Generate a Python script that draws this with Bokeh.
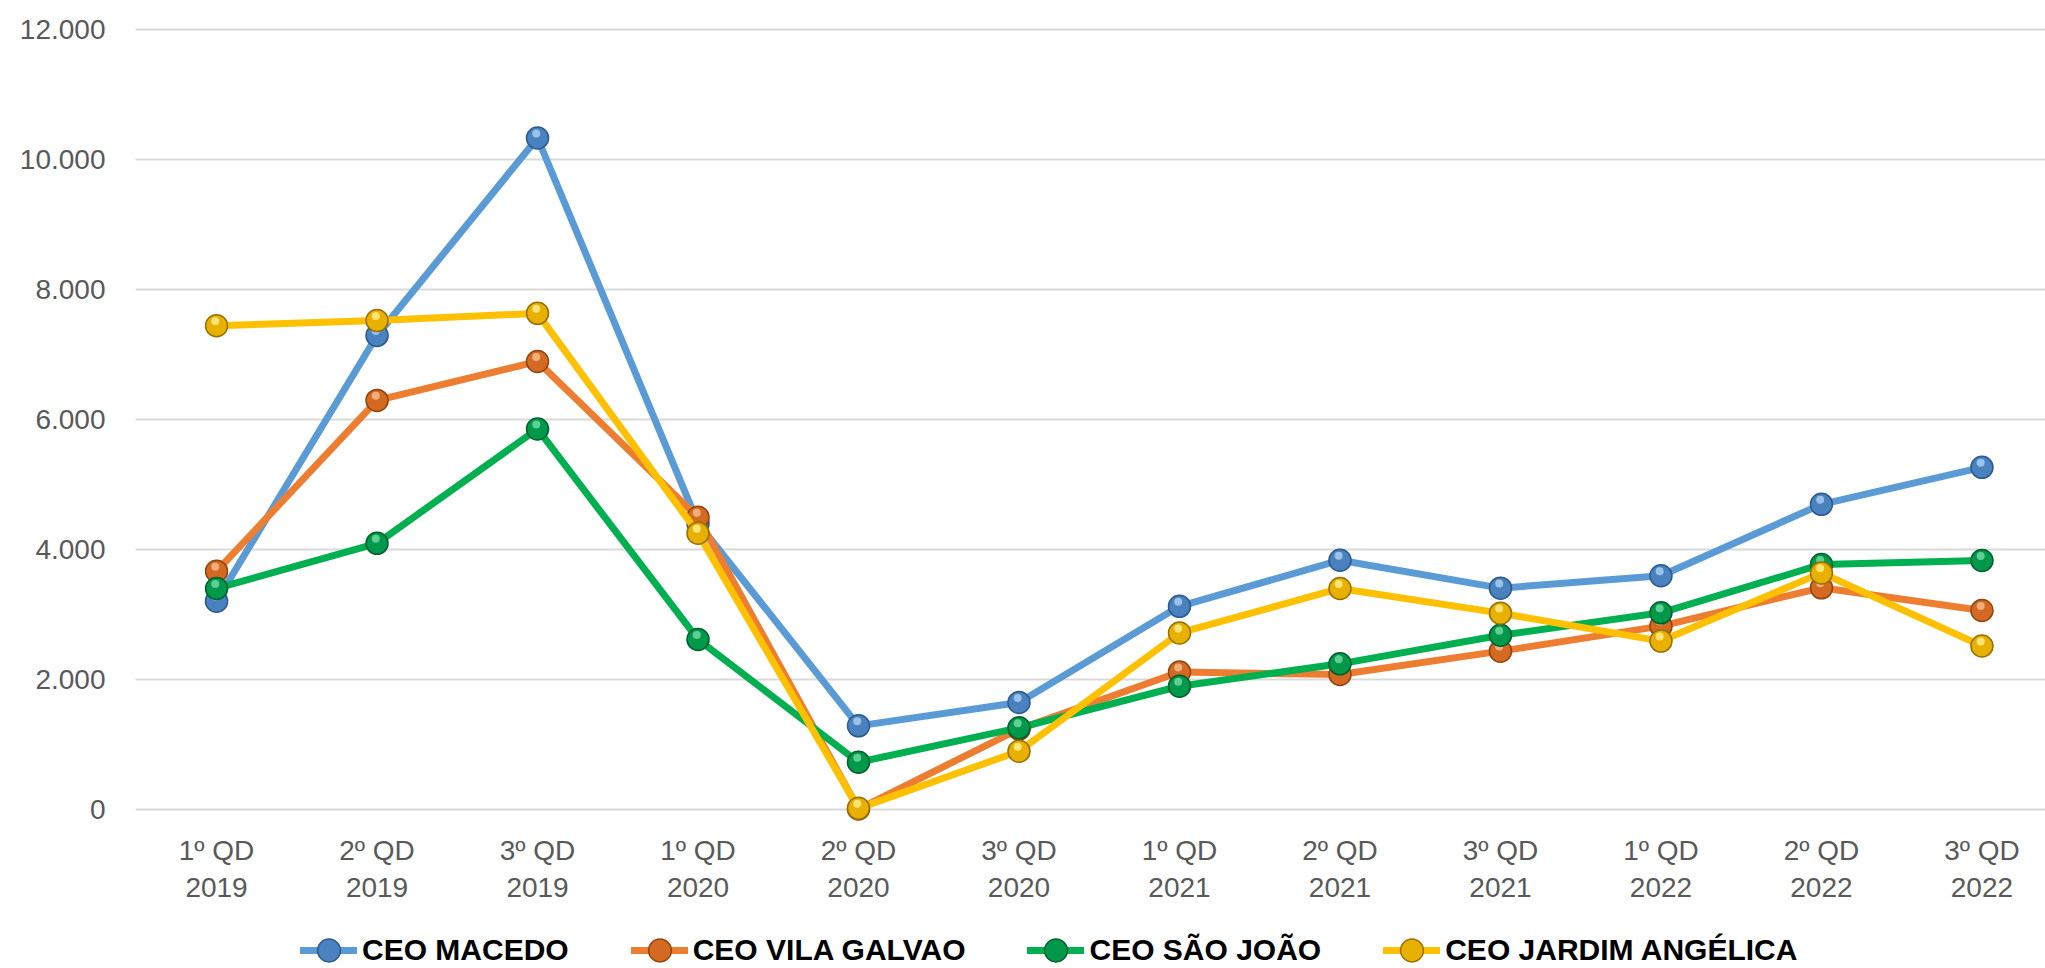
from bokeh.plotting import figure
from bokeh.layouts import column
from bokeh.models import (ColumnDataSource, FixedTicker, LinearAxis, Legend,
                          LegendItem, Range1d)
from bokeh.transform import dodge
from bokeh.embed import file_html
from bokeh.resources import INLINE

# ---------------- data ----------------
quarter_labels = ["1º QD", "2º QD", "3º QD", "1º QD", "2º QD", "3º QD",
                  "1º QD", "2º QD", "3º QD", "1º QD", "2º QD", "3º QD"]
year_labels = ["2019", "2019", "2019", "2020", "2020", "2020",
               "2021", "2021", "2021", "2022", "2022", "2022"]

series_names = ["CEO MACEDO", "CEO VILA GALVAO", "CEO SÃO JOÃO", "CEO JARDIM ANGÉLICA"]
macedo = [3200, 7290, 10330, 4400, 1280, 1640, 3120, 3830, 3400, 3590, 4690, 5260]
vila_galvao = [3660, 6290, 6890, 4490, 0, 1230, 2110, 2070, 2430, 2815, 3405, 3055]
sao_joao = [3395, 4090, 5850, 2610, 720, 1250, 1890, 2235, 2675, 3020, 3765, 3825]
jardim_angelica = [7440, 7520, 7630, 4245, 10, 890, 2710, 3395, 3015, 2585, 3635, 2510]

y_ticks = [0, 2000, 4000, 6000, 8000, 10000, 12000]
y_tick_labels = ["0", "2.000", "4.000", "6.000", "8.000", "10.000", "12.000"]

# ---------------- style ----------------
line_colors = ["#5B9BD5", "#ED7D31", "#00B050", "#FFC000"]
marker_fill = ["#4A82BF", "#D46A22", "#00984A", "#E8B000"]
marker_edge = ["#2C5A8C", "#8F4510", "#00602C", "#977000"]
marker_hl = ["#A8CCEE", "#F7B98C", "#70D9A0", "#FFEC8A"]

TICK_FONT = "Liberation Sans"
TICK_COLOR = "#595959"

p = figure(width=2045, height=916,
           x_range=Range1d(-0.505, 11.396), y_range=Range1d(-300, 12200),
           output_backend="svg", toolbar_location=None,
           min_border_left=135, min_border_right=0, min_border_top=16,
           min_border_bottom=88)
p.outline_line_color = None
p.background_fill_color = "white"
p.border_fill_color = "white"

# y axis
p.yaxis.ticker = FixedTicker(ticks=y_ticks)
p.yaxis.major_label_overrides = {t: l for t, l in zip(y_ticks, y_tick_labels)}
p.yaxis.axis_line_color = None
p.yaxis.major_tick_line_color = None
p.yaxis.minor_tick_line_color = None
p.yaxis.major_tick_out = 0
p.yaxis.major_tick_in = 0
p.yaxis.major_label_standoff = 30
p.yaxis.major_label_text_font = TICK_FONT
p.yaxis.major_label_text_font_size = "28px"
p.yaxis.major_label_text_color = TICK_COLOR

p.ygrid.grid_line_color = "#D9D9D9"
p.ygrid.grid_line_width = 2
p.xgrid.visible = False

# x axis: two stacked axes (quarter line, year line)
idx = list(range(len(quarter_labels)))
xa = p.xaxis[0]
xa.ticker = FixedTicker(ticks=idx)
xa.major_label_overrides = {i: q for i, q in zip(idx, quarter_labels)}
xa2 = LinearAxis(ticker=FixedTicker(ticks=idx),
                 major_label_overrides={i: y for i, y in zip(idx, year_labels)})
p.add_layout(xa2, "below")
for ax, st in ((xa, 6), (xa2, 9)):
    ax.axis_line_color = None
    ax.major_tick_line_color = None
    ax.minor_tick_line_color = None
    ax.major_tick_out = 0
    ax.major_tick_in = 0
    ax.major_label_standoff = st
    ax.major_label_text_font = TICK_FONT
    ax.major_label_text_font_size = "28px"
    ax.major_label_text_color = TICK_COLOR

# series
all_values = [macedo, vila_galvao, sao_joao, jardim_angelica]
for k, (name, vals) in enumerate(zip(series_names, all_values)):
    src = ColumnDataSource(dict(x=idx, y=vals))
    p.line("x", "y", source=src, line_color=line_colors[k], line_width=7,
           line_join="round", line_cap="round")
    p.scatter("x", "y", source=src, marker="circle", size=22,
              fill_color=marker_fill[k], line_color=marker_edge[k], line_width=1.5)
    p.scatter(dodge("x", -0.008, range=p.x_range), dodge("y", 70, range=p.y_range),
              source=src, marker="circle", size=8,
              fill_color=marker_hl[k], fill_alpha=0.85, line_color=None)

# ---------------- legend strip (separate figure below) ----------------
# The series are drawn again here only so the legend has glyphs; the ranges
# keep every point out of view.
lg = figure(width=2045, height=52, output_backend="svg", toolbar_location=None,
            x_axis_type=None, y_axis_type=None,
            x_range=Range1d(-1000, -999), y_range=Range1d(-1000, -999),
            min_border_left=0, min_border_right=0, min_border_top=0, min_border_bottom=0)
lg.outline_line_color = None
lg.grid.visible = False
items = []
for k, (name, vals) in enumerate(zip(series_names, all_values)):
    src = ColumnDataSource(dict(x=idx, y=vals))
    lr = lg.line("x", "y", source=src, line_color=line_colors[k], line_width=7,
                 line_cap="round")
    mr = lg.scatter("x", "y", source=src, marker="circle", size=22,
                    fill_color=marker_fill[k], line_color=marker_edge[k], line_width=1.5)
    items.append(LegendItem(label=name, renderers=[lr, mr]))

legend = Legend(items=items, orientation="horizontal", location=(165, -12),
                label_text_font="Liberation Sans", label_text_font_style="bold",
                label_text_font_size="30px", label_text_color="black",
                glyph_width=57, glyph_height=60, label_height=60,
                label_standoff=5, spacing=62, padding=0, margin=0,
                border_line_color=None, background_fill_alpha=0)
lg.add_layout(legend, "center")

layout = column(p, lg, spacing=0)
open("out.html", "w").write(file_html(layout, INLINE))
